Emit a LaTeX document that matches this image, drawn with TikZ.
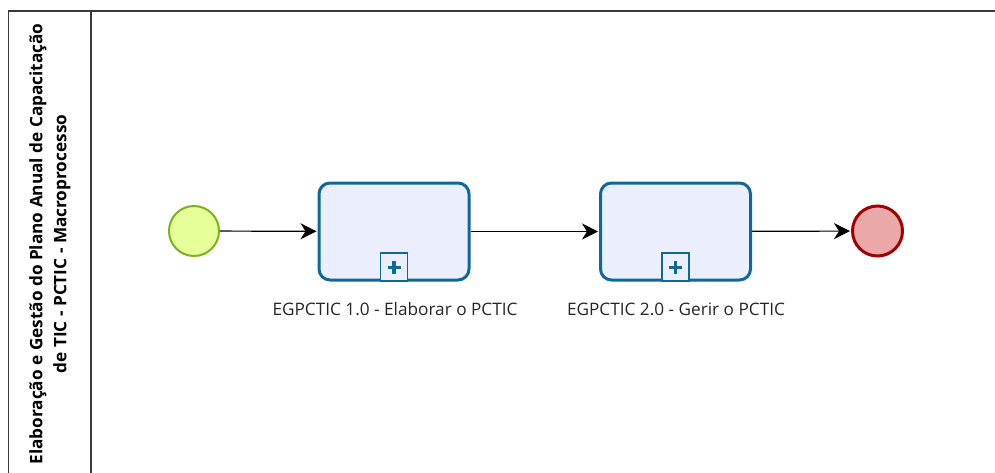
\documentclass[tikz,border=0pt]{standalone}
\usepackage{fontspec}
\setmainfont{Open Sans}
\usetikzlibrary{arrows.meta}
\definecolor{taskline}{HTML}{10689A}
\definecolor{taskfill}{HTML}{EAEEFD}
\definecolor{startline}{HTML}{77B41E}
\definecolor{startfill}{HTML}{E6FF99}
\definecolor{endline}{HTML}{A00000}
\definecolor{endfill}{HTML}{EBA8A8}
\definecolor{frameline}{HTML}{3A3A3A}
\tikzset{
  startev/.style={circle, draw=startline, fill=startfill, line width=2pt, minimum size=50pt, inner sep=0pt},
  endev/.style={circle, draw=endline, fill=endfill, line width=3pt, minimum size=50pt, inner sep=0pt},
  subproc/.style={rectangle, rounded corners=11pt, draw=taskline, fill=taskfill, line width=3pt, minimum width=150pt, minimum height=97pt, inner sep=0pt},
  marker/.style={rectangle, draw=taskline, fill=taskfill, line width=1.6pt, minimum width=27pt, minimum height=28pt, inner sep=0pt},
  flow/.style={draw=black, line width=1.2pt, -{Stealth[length=16pt, width=16pt, inset=5pt]}, shorten >=1pt},
  tasklabel/.style={font=\fontsize{17.2}{20}\selectfont, text=black!85, inner sep=0pt},
  lanetitle/.style={font=\bfseries\fontsize{17.2}{24}\selectfont, align=center, rotate=90, inner sep=0pt}
}
\begin{document}
\begin{tikzpicture}[x=1pt, y=-1pt]
\useasboundingbox (0,0) rectangle (995,472);
% pool frame and lane header
\draw[frameline, line width=1.6pt] (998,11) -- (8.5,11) -- (8.5,476);
\draw[frameline, line width=1.6pt] (91,11) -- (91,476);
\node[lanetitle] (title) at (50,244) {Elaboração e Gestão do Plano Anual de Capacitação\\de TIC - PCTIC - Macroprocesso};
% events and sub-processes
\node[startev] (start) at (194,231) {};
\node[subproc] (t1) at (394,231.5) {};
\node[subproc] (t2) at (675.5,231.5) {};
\node[endev] (finish) at (877.5,231) {};
% collapsed sub-process markers
\foreach \t in {t1,t2}{
  \node[marker, anchor=south] (\t m) at ([yshift=-0.5pt]\t.south) {};
  \fill[taskline] ([xshift=-1.6pt,yshift=-6.5pt]\t m.center) rectangle ([xshift=1.6pt,yshift=6.5pt]\t m.center);
  \fill[taskline] ([xshift=-6.5pt,yshift=-1.6pt]\t m.center) rectangle ([xshift=6.5pt,yshift=1.6pt]\t m.center);
}
% labels
\node[tasklabel] (l1) at (395,309) {EGPCTIC 1.0 - Elaborar o PCTIC};
\node[tasklabel] (l2) at (676,309) {EGPCTIC 2.0 - Gerir o PCTIC};
% sequence flows
\draw[flow] (start) -- (t1);
\draw[flow] (t1) -- (t2);
\draw[flow] (t2) -- (finish);
\end{tikzpicture}
\end{document}
